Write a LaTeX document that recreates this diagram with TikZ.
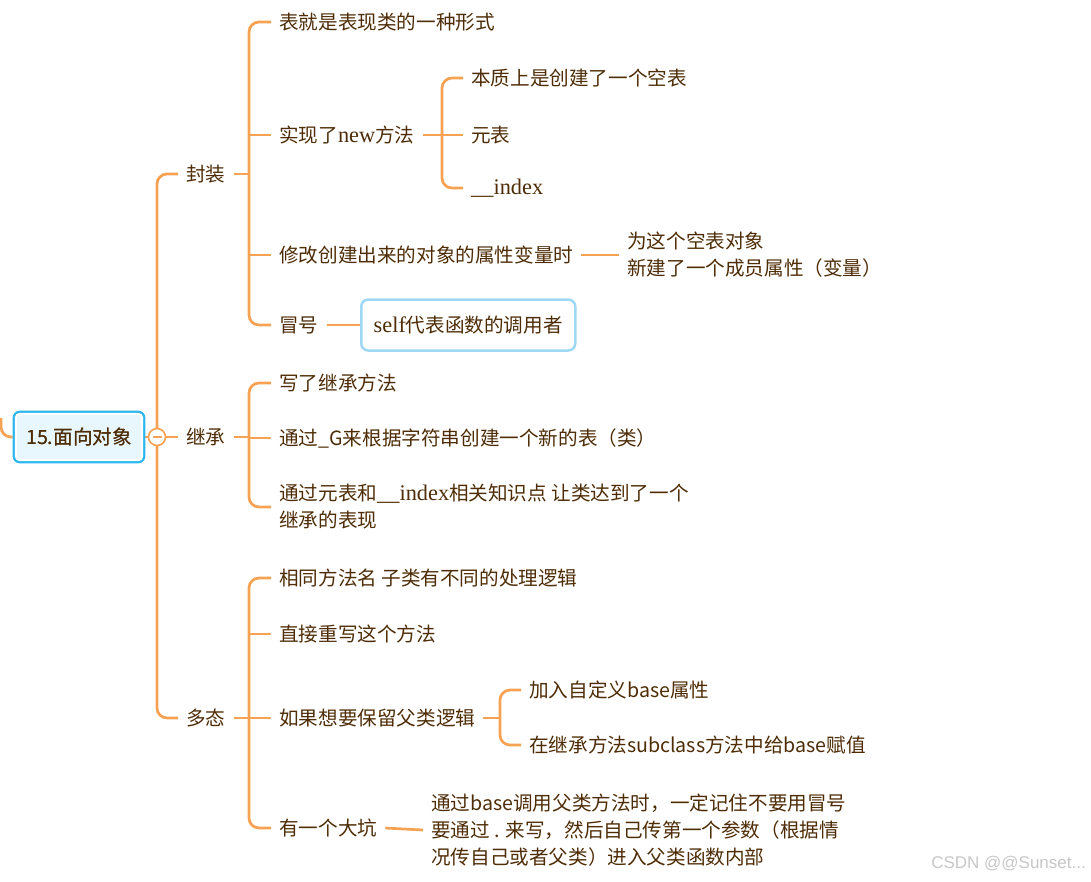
\documentclass[tikz,border=0pt]{standalone}
\usepackage{fontspec}
\setmainfont{Noto Sans CJK SC}
\newfontfamily\ls[Scale=1.14]{Liberation Serif}
\newfontfamily\lsans{Liberation Sans}
\usetikzlibrary{backgrounds}
\definecolor{ln}{RGB}{247,162,82}
\definecolor{tx}{RGB}{78,44,6}
\definecolor{rootbd}{RGB}{44,182,240}
\definecolor{rootfill}{RGB}{232,246,253}
\definecolor{selfbd}{RGB}{158,216,245}
\begin{document}
\begin{tikzpicture}[x=1pt,y=-1pt,
  t/.style={anchor=west, inner xsep=8pt, inner ysep=2pt, text=tx, font=\fontsize{19.6}{27}\selectfont, align=left},
  conn/.style={draw=ln, line width=2.7pt},
  rc/.style={rounded corners=10pt}]
\useasboundingbox (0,0) rectangle (1091,881);
% spine coordinates
\coordinate (sR) at (157,0);
\coordinate (sA) at (249,0);
\coordinate (sA2) at (442,0);
\coordinate (sC3) at (500,0);
\coordinate (edge) at (1,418);
% root
\node[draw=rootbd, line width=2.8pt, fill=rootfill, rounded corners=6pt, minimum width=130pt, minimum height=50pt, inner sep=0, text=tx, font=\fontsize{19.6}{27}\selectfont] (root) at (79,437) {15.面向对象};
\draw[white, line width=2pt, rounded corners=4pt] ([shift={(3.2,3.2)}]root.north west) rectangle ([shift={(-3.2,-3.2)}]root.south east);
\node[text=tx, font=\fontsize{19.6}{27}\selectfont] at (root) {15.面向对象};
\node[circle, draw=ln, fill=white, line width=1.6pt, minimum size=17pt, inner sep=0] (col) at (157,437) {};
\draw[ln, line width=1.6pt] ([xshift=-4.5pt]col.center) -- ([xshift=4.5pt]col.center);
% level 1
\node[t] (F) at (178,174) {封装};
\node[t] (J) at (178,437) {继承};
\node[t] (D) at (178,718) {多态};
% 封装
\node[t] (A1) at (271,22) {表就是表现类的一种形式};
\node[t] (A2) at (271,135) {实现了{\ls new}方法};
\node[t] (A3) at (271,255) {修改创建出来的对象的属性变量时};
\node[t] (A4) at (271,325) {冒号};
\node[t] (A2a) at (463,78) {本质上是创建了一个空表};
\node[t] (A2b) at (463,135) {元表};
\node[t] (A2c) at (463,188) {{\ls \_\_index}};
\node[t] (A3a) at (619,255) {为这个空表对象\\新建了一个成员属性（变量）};
\node[draw=selfbd, line width=2.5pt, rounded corners=7pt, fill=white, minimum width=214pt, minimum height=51pt, anchor=west, inner xsep=11pt, text=tx, font=\fontsize{19.6}{27}\selectfont] (A4a) at (360,325) {{\ls self}代表函数的调用者};
% 继承
\node[t] (B1) at (271,383) {写了继承方法};
\node[t] (B2) at (271,438) {通过\_G来根据字符串创建一个新的表（类）};
\node[t] (B3) at (271,507) {通过元表和{\ls \_\_index}相关知识点 让类达到了一个\\继承的表现};
% 多态
\node[t] (C1) at (271,578) {相同方法名 子类有不同的处理逻辑};
\node[t] (C2) at (271,634) {直接重写这个方法};
\node[t] (C3) at (271,718) {如果想要保留父类逻辑};
\node[t] (C4) at (271,828) {有一个大坑};
\node[t] (C3a) at (521,690) {加入自定义base属性};
\node[t] (C3b) at (521,745) {在继承方法subclass方法中给base赋值};
\node[t] (C4a) at (423,830) {通过base调用父类方法时，一定记住不要用冒号\\要通过 . 来写，然后自己传第一个参数（根据情\\况传自己或者父类）进入父类函数内部};
% watermark
\node[anchor=east, inner sep=0, text=black!22, font=\lsans\fontsize{17}{17}\selectfont] (wm) at (1086,864) {CSDN @@Sunset...};
% connectors
\begin{scope}[on background layer]
\draw[conn, rc] (edge) -- (edge |- root.west) -- (root.west);
\draw[conn] (root.east) -- (col.west);
\draw[conn, rc] (F.west) -- (F.west -| sR) -- (D.west -| sR) -- (D.west);
\draw[conn] (J.west -| sR) -- (J.west);
% 封装 group
\draw[conn] (F.east) -- (F.east -| sA);
\draw[conn, rc] (A1.west) -- (A1.west -| sA) -- (A4.west -| sA) -- (A4.west);
\draw[conn] (A2.west -| sA) -- (A2.west);
\draw[conn] (A3.west -| sA) -- (A3.west);
\draw[conn] (A2.east) -- (A2.east -| sA2);
\draw[conn, rc] (A2a.west) -- (A2a.west -| sA2) -- (A2c.west -| sA2) -- (A2c.west);
\draw[conn] (A2b.west -| sA2) -- (A2b.west);
\draw[conn] (A3.east) -- (A3a.west);
\draw[conn] (A4.east) -- (A4a.west);
% 继承 group
\draw[conn] (J.east) -- (J.east -| sA);
\draw[conn, rc] (B1.west) -- (B1.west -| sA) -- (B3.west -| sA) -- (B3.west);
\draw[conn] (B2.west -| sA) -- (B2.west);
% 多态 group
\draw[conn] (D.east) -- (D.east -| sA);
\draw[conn, rc] (C1.west) -- (C1.west -| sA) -- (C4.west -| sA) -- (C4.west);
\draw[conn] (C2.west -| sA) -- (C2.west);
\draw[conn] (C3.west -| sA) -- (C3.west);
\draw[conn] (C3.east) -- (C3.east -| sC3);
\draw[conn, rc] (C3a.west) -- (C3a.west -| sC3) -- (C3b.west -| sC3) -- (C3b.west);
\draw[conn] (C4.east) -- (C4a.west);
\end{scope}
\end{tikzpicture}
\end{document}
